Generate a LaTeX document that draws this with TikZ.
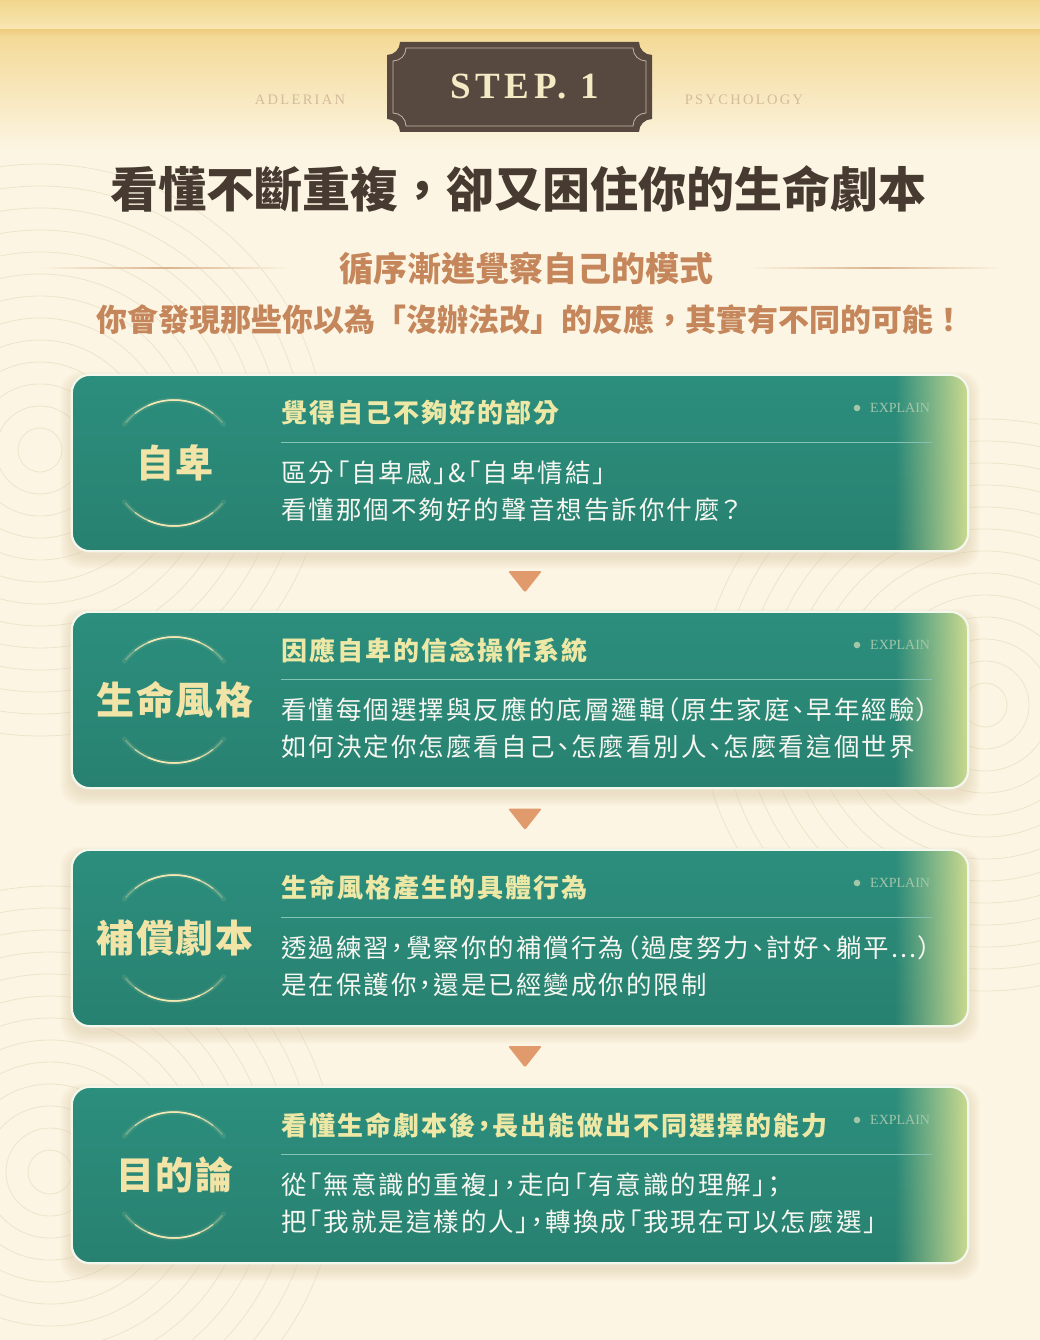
\documentclass[tikz,border=0pt]{standalone}
\usepackage{fontspec}
\setmainfont{Liberation Serif}
\newfontfamily\cjk{Noto Sans CJK TC}
\newfontfamily\cjkt[RawFeature={+palt}, LetterSpace=8]{Noto Sans CJK TC}
\newfontfamily\cjkl[LetterSpace=5]{Noto Sans CJK TC}
\newfontfamily\stepfont[LetterSpace=12]{Liberation Serif}
\newfontfamily\widefont[LetterSpace=16]{Liberation Serif}
\usetikzlibrary{calc,fadings}
\definecolor{bgc}{HTML}{FCF5E3}
\definecolor{goldA}{HTML}{F1D68C}
\definecolor{goldB}{HTML}{F8E6B3}
\definecolor{goldC}{HTML}{EECE80}
\definecolor{goldD}{HTML}{F4DA98}
\definecolor{plaquec}{HTML}{574940}
\definecolor{plaqueline}{HTML}{C9B2A2}
\definecolor{stepc}{HTML}{F6EAC4}
\definecolor{smallc}{HTML}{D4BB9B}
\definecolor{titlec}{HTML}{473A31}
\definecolor{subc}{HTML}{C4865A}
\definecolor{decoc}{HTML}{D9B48E}
\definecolor{ringc}{HTML}{EEE4CB}
\definecolor{cardtop}{HTML}{2C8E7D}
\definecolor{cardbot}{HTML}{288170}
\definecolor{cardyg}{HTML}{CBDA90}
\definecolor{cardedge}{HTML}{F3F7EC}
\definecolor{shadowc}{HTML}{D9C7A2}
\definecolor{labc}{HTML}{F2E3A6}
\definecolor{arcc}{HTML}{F4E8B4}
\definecolor{ctitc}{HTML}{EEE8A6}
\definecolor{bodyc}{HTML}{F6F7F0}
\definecolor{explc}{HTML}{A2C6A8}
\definecolor{divc}{HTML}{86C3B3}
\definecolor{arrowc}{HTML}{E09A6C}
\tikzfading[name=fadeR, left color=transparent!100, middle color=transparent!78, right color=transparent!0]
\tikzset{
  lbl/.style={font=\cjkl\bfseries\fontsize{38pt}{44pt}\selectfont, text=labc, inner sep=0pt},
  ctitle/.style={anchor=west, font=\cjkt\bfseries\fontsize{26pt}{30pt}\selectfont, text=ctitc, inner sep=0pt},
  cbody/.style={anchor=west, font=\cjkt\fontsize{25.5pt}{30pt}\selectfont, text=bodyc, inner sep=0pt},
  expl/.style={anchor=west, font=\fontsize{14pt}{16pt}\selectfont, text=explc, inner sep=0pt},
  cardbox/.style={top color=cardtop, bottom color=cardbot, rounded corners=18pt, minimum width=896pt, minimum height=176pt, inner sep=0pt},
  goldarc/.style={draw=arcc, line cap=round},
  arrowtri/.style={fill=arrowc, rounded corners=1.5pt},
  decoline/.style={left color=bgc, right color=bgc, middle color=decoc}
}
\newcommand\stepcard[7]{%
\begin{scope}[yshift=-#1pt]
  \foreach \i in {1,...,9}
    \fill[shadowc, opacity=0.05, rounded corners=20pt] (72-\i*1.3, 4-\i*0.8) rectangle (968+\i*1.3, 182+\i*1.3);
  \node[cardbox] (#2) at (520,88) {};
  \begin{scope}
    \clip[rounded corners=18pt] (#2.north west) rectangle (#2.south east);
    \fill[cardyg, path fading=fadeR] (895,0) rectangle (968,176);
  \end{scope}
  \draw[cardedge, line width=2.2pt, rounded corners=18pt] (#2.north west) rectangle (#2.south east);
  % label arcs
  \foreach \s/\e/\o/\w in {38/142/0.10/5pt, 40/140/0.35/1.2pt, 52/128/0.7/1.3pt, 66/114/1/1.5pt}{
    \draw[goldarc, opacity=\o, line width=\w] ([shift={(\s:63pt)}]174,88) arc[start angle=\s, end angle=\e, radius=63pt];
    \draw[goldarc, opacity=\o, line width=\w] ([shift={(-\s:63pt)}]174,88) arc[start angle=-\s, end angle=-\e, radius=63pt];
  }
  \node[lbl] (#2l) at (175,88) {#3};
  \node[ctitle] (#2t) at (281,38) {#4};
  \fill[explc] (857,33) circle[radius=3.3pt];
  \node[expl] (#2e) at (870,33) {EXPLAIN};
  \draw[divc, line width=1pt] (281,67) -- (932,67);
  \node[cbody] (#2a) at (281,98) {#5};
  \node[cbody] (#2b) at (281,135) {#6};
\end{scope}}
\begin{document}
\begin{tikzpicture}[x=1pt,y=-1pt]
\useasboundingbox (0,0) rectangle (1040,1340);
\fill[bgc] (0,0) rectangle (1040,1340);
% top band
\shade[top color=goldA, bottom color=goldB] (0,0) rectangle (1040,30);
\shade[top color=goldC, bottom color=goldD] (0,30) rectangle (1040,37);
\shade[top color=goldD, bottom color=bgc] (0,37) rectangle (1040,150);
% background rings
\begin{scope}
  \clip (0,150) rectangle (1040,1340);
  \foreach \r in {22,44,...,286} {
    \draw[ringc, line width=0.8pt] (40,450) circle[radius=\r pt];
    \draw[ringc, line width=0.8pt] (50,1172) circle[radius=\r pt];
    \draw[ringc, line width=0.8pt] (985,705) circle[radius=\r pt];
  }
\end{scope}
% plaque
\fill[plaquec] (400,42) -- (639,42) arc[start angle=180,end angle=270,radius=13pt] -- (652,119) arc[start angle=90,end angle=180,radius=13pt] -- (400,132) arc[start angle=0,end angle=90,radius=13pt] -- (387,55) arc[start angle=270,end angle=360,radius=13pt] -- cycle;
\draw[plaqueline, line width=0.8pt] (406,48) -- (633,48) arc[start angle=180,end angle=270,radius=13pt] -- (646,113) arc[start angle=90,end angle=180,radius=13pt] -- (406,126) arc[start angle=0,end angle=90,radius=13pt] -- (393,61) arc[start angle=270,end angle=360,radius=13pt] -- cycle;
\node[inner sep=0pt, text=stepc, font=\stepfont\bfseries\fontsize{37pt}{40pt}\selectfont] (step) at (525,87) {STEP. 1};
\node[inner sep=0pt, text=smallc, font=\widefont\fontsize{14.5pt}{16pt}\selectfont] (adl) at (300,100) {ADLERIAN};
\node[inner sep=0pt, text=smallc, font=\widefont\fontsize{14.5pt}{16pt}\selectfont] (psy) at (744,100) {PSYCHOLOGY};
% titles
\node[inner sep=0pt, text=titlec, font=\cjk\bfseries\fontsize{48pt}{54pt}\selectfont] (title) at (518,189) {看懂不斷重複，卻又困住你的生命劇本};
\shade[decoline] (40,267.2) rectangle (292,268.8);
\shade[decoline] (748,267.2) rectangle (1004,268.8);
\node[inner sep=0pt, text=subc, font=\cjk\bfseries\fontsize{34pt}{38pt}\selectfont] (sub1) at (526,268) {循序漸進覺察自己的模式};
\node[inner sep=0pt, text=subc, font=\cjk\bfseries\fontsize{31pt}{36pt}\selectfont] (sub2) at (530,320) {你會發現那些你以為「沒辦法改」的反應，其實有不同的可能！};
% cards
\stepcard{375}{c1}{自卑}{覺得自己不夠好的部分}{區分「自卑感」\&「自卑情結」}{看懂那個不夠好的聲音想告訴你什麼？}{}
\stepcard{612}{c2}{生命風格}{因應自卑的信念操作系統}{看懂每個選擇與反應的底層邏輯（原生家庭、早年經驗）}{如何決定你怎麼看自己、怎麼看別人、怎麼看這個世界}{}
\stepcard{850}{c3}{補償劇本}{生命風格產生的具體行為}{透過練習，覺察你的補償行為（過度努力、討好、躺平...）}{是在保護你，還是已經變成你的限制}{}
\stepcard{1087}{c4}{目的論}{看懂生命劇本後，長出能做出不同選擇的能力}{從「無意識的重複」，走向「有意識的理解」；}{把「我就是這樣的人」，轉換成「我現在可以怎麼選」}{}
% arrows between cards
\foreach \a/\b in {c1/c2, c2/c3, c3/c4} {
  \coordinate (m\a) at ($(\a.south)!0.5!(\b.north)+(5,0)$);
  \fill[arrowtri] (m\a) ++(-17,-10.5) -- ++(34,0) -- ++(-17,21.5) -- cycle;
}
\end{tikzpicture}
\end{document}
